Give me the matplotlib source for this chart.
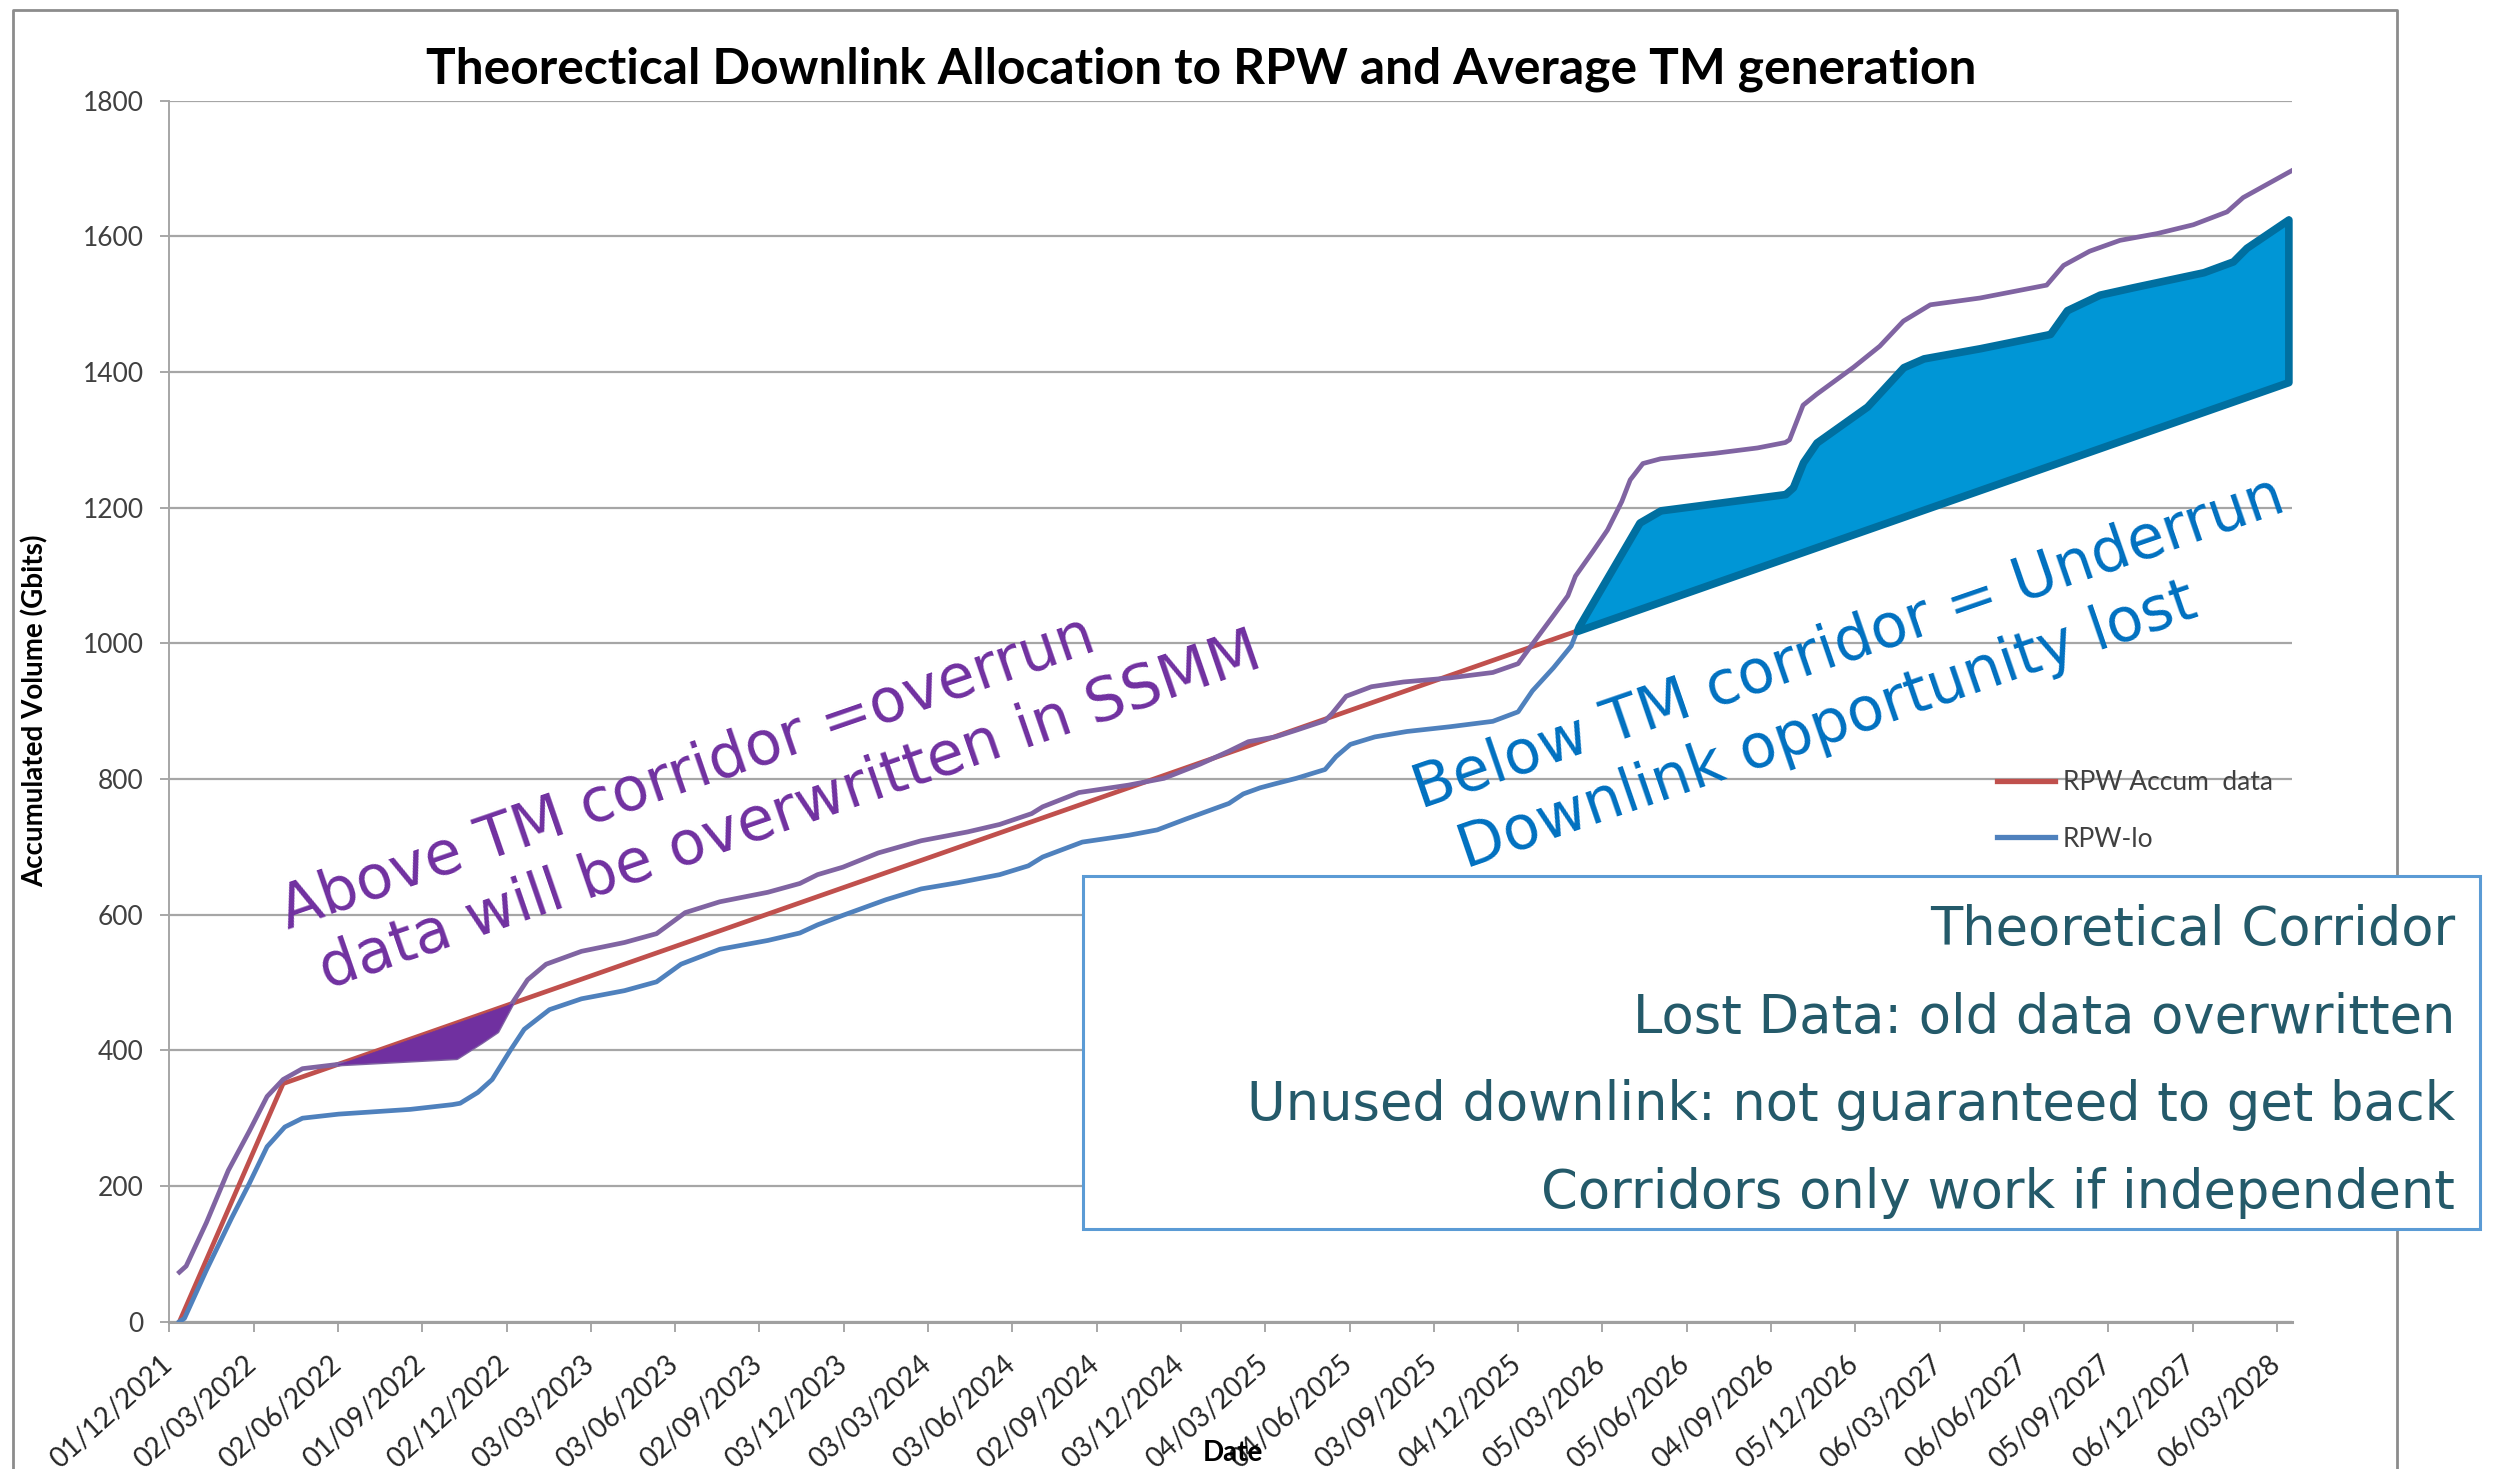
import numpy as np
import matplotlib
matplotlib.use("Agg")
import matplotlib.pyplot as plt
import matplotlib.transforms as mtransforms
from matplotlib.lines import Line2D
from matplotlib.patches import Rectangle

# x positions are in units of the quarterly date ticks (0 = 01/12/2021)
tick_labels = [
    '01/12/2021', '02/03/2022', '02/06/2022', '01/09/2022', '02/12/2022',
    '03/03/2023', '03/06/2023', '02/09/2023', '03/12/2023', '03/03/2024',
    '03/06/2024', '02/09/2024', '03/12/2024', '04/03/2025', '04/06/2025',
    '03/09/2025', '04/12/2025', '05/03/2026', '05/06/2026', '04/09/2026',
    '05/12/2026', '06/03/2027', '06/06/2027', '05/09/2027', '06/12/2027',
    '06/03/2028'
]
y_ticks = [0, 200, 400, 600, 800, 1000, 1200, 1400, 1600, 1800]

# RPW accumulated data (average TM generation)
red_x = [0.12, 1.35, 25.16]
red_y = [0, 351, 1386]

# upper corridor
purple_x = [0.12, 0.20, 0.44, 0.70, 0.95, 1.16, 1.35, 1.58, 2.05, 3.41,
            3.70, 3.89, 4.08, 4.25, 4.47, 4.89, 5.40, 5.78, 6.12, 6.53,
            7.10, 7.48, 7.69, 7.99, 8.41, 8.92, 9.47, 9.85, 10.23, 10.36,
            10.79, 11.38, 11.80, 12.23, 12.57, 12.80, 13.12, 13.37, 13.71, 13.79,
            13.96, 14.26, 14.64, 15.19, 15.70, 16.00, 16.17, 16.42, 16.59, 16.68,
            16.89, 17.06, 17.23, 17.33, 17.48, 17.69, 18.33, 18.84, 19.17, 19.22,
            19.38, 19.54, 19.98, 20.29, 20.57, 20.89, 21.48, 22.27, 22.47, 22.78,
            23.14, 23.58, 24.01, 24.41, 24.60, 25.21]
purple_y = [73, 82, 146, 223, 281, 332, 357, 373, 380, 389,
            412, 428, 472, 504, 527, 546, 559, 572, 603, 619,
            633, 646, 659, 670, 691, 709, 722, 733, 749, 759,
            780, 791, 801, 822, 841, 855, 862, 872, 886, 896,
            922, 936, 943, 949, 957, 970, 999, 1041, 1070, 1099,
            1136, 1167, 1209, 1241, 1265, 1272, 1280, 1288, 1296, 1300,
            1351, 1367, 1407, 1438, 1475, 1499, 1509, 1528, 1557, 1578,
            1594, 1604, 1617, 1636, 1657, 1699]

# lower corridor (RPW-lo)
blue_x = [0.12, 0.18, 0.44, 0.74, 0.95, 1.16, 1.37, 1.58, 2.01, 2.86,
          3.36, 3.45, 3.66, 3.83, 4.04, 4.21, 4.51, 4.89, 5.40, 5.78,
          6.07, 6.53, 7.10, 7.48, 7.69, 7.99, 8.50, 8.92, 9.35, 9.85,
          10.19, 10.36, 10.83, 11.38, 11.72, 12.06, 12.57, 12.74, 12.94, 13.12,
          13.37, 13.71, 13.84, 14.01, 14.30, 14.68, 15.19, 15.70, 16.00, 16.17,
          16.42, 16.63, 16.72, 17.44, 17.69, 19.17, 19.26, 19.38, 19.54, 20.14,
          20.57, 20.81, 21.48, 22.31, 22.51, 22.90, 23.30, 24.13, 24.48, 24.64,
          25.14]
blue_y = [0, 5, 76, 153, 204, 258, 287, 300, 306, 313,
          320, 322, 338, 357, 399, 431, 460, 476, 488, 501,
          527, 549, 562, 573, 585, 599, 622, 638, 647, 659,
          672, 685, 707, 717, 725, 741, 764, 778, 787, 793,
          801, 814, 833, 851, 862, 870, 877, 885, 899, 930,
          964, 996, 1025, 1178, 1196, 1220, 1230, 1267, 1296, 1349,
          1407, 1420, 1435, 1456, 1491, 1514, 1525, 1547, 1563, 1583,
          1625]

title = 'Theorectical Downlink Allocation to RPW and Average TM generation'
box_lines = ['Theoretical Corridor', 'Lost Data: old data overwritten',
             'Unused downlink: not guaranteed to get back',
             'Corridors only work if independent']
over_lines = ['Above TM corridor =overrun', 'data will be overwritten in SSMM']
under_lines = ['Below TM corridor = Underrun', 'Downlink opportunity lost']

W, H = 2506, 1469
plt.rcParams['font.family'] = 'DejaVu Sans'
fig = plt.figure(figsize=(W / 100, H / 100), dpi=100)

def fx(px):
    return px / W

def fy(py):
    return 1 - py / H

ax = fig.add_axes([fx(169.3), fy(1321.7), (2292 - 169.3) / W, 1221.1 / H])

ax.plot(red_x, red_y, color='#C0504D', lw=3.4, zorder=3)
ax.plot(blue_x, blue_y, color='#4F81BD', lw=3.4, zorder=3)
ax.plot(purple_x, purple_y, color='#8064A2', lw=3.4, zorder=3)

# shaded overrun / underrun regions
grid = np.linspace(0, 25.2, 8000)
red_i = np.interp(grid, red_x, red_y)
blue_i = np.interp(grid, blue_x, blue_y)
purple_i = np.interp(grid, purple_x, purple_y)

ax.fill_between(grid, purple_i, red_i,
                where=(red_i > purple_i) & (grid > 1.8) & (grid < 4.5),
                interpolate=True, facecolor='#7030A0', edgecolor='#7030A0',
                lw=0.5, zorder=4)
ax.fill_between(grid, red_i, blue_i,
                where=(blue_i > red_i) & (grid > 16) & (grid <= blue_x[-1]),
                interpolate=True, facecolor='#0096D6', edgecolor='#006FA0',
                lw=5.5, joinstyle='round', zorder=4)

ax.set_xlim(0, 25.18)
ax.set_ylim(0, 1800)
ax.set_xticks(range(len(tick_labels)))
ax.set_xticklabels(tick_labels, rotation=42, ha='right', family='Lato',
                   fontsize=20, color='#262626')
ax.set_yticks(y_ticks)
ax.set_yticklabels([str(v) for v in y_ticks], family='Lato', fontsize=19,
                   color='#404040')
ax.tick_params(axis='x', length=7, width=1.3, color='#A0A0A0', pad=14)
ax.tick_params(axis='y', length=6.5, width=1.3, color='#A0A0A0', pad=12)

# nudge the date labels a little to the right, as in the original
shift = mtransforms.ScaledTranslation(0.08, 0, fig.dpi_scale_trans)
for lab in ax.get_xticklabels():
    lab.set_transform(lab.get_transform() + shift)

for side in ['top', 'right']:
    ax.spines[side].set_visible(False)
ax.spines['left'].set_color('#A6A6A6')
ax.spines['left'].set_linewidth(1.4)
ax.spines['bottom'].set_color('#A0A0A0')
ax.spines['bottom'].set_linewidth(2.2)
ax.yaxis.grid(True, color='#A6A6A6', lw=1.6)
ax.set_axisbelow(True)

leg = ax.legend(handles=[Line2D([], [], color='#C0504D', lw=3.8),
                         Line2D([], [], color='#4F81BD', lw=3.8)],
                labels=['RPW Accum  data', 'RPW-lo'],
                loc='upper left', bbox_to_anchor=(fx(1997), fy(770)),
                bbox_transform=fig.transFigure, frameon=False,
                prop={'family': 'Lato', 'size': 19}, labelcolor='#404040',
                handlelength=2.2, handletextpad=0.3, labelspacing=1.2,
                borderpad=0, borderaxespad=0)

# titles and axis labels
fig.text(fx(1201), fy(83), title, ha='center', va='baseline',
         family='Lato', fontweight='bold', fontsize=35.7, color='black')
fig.text(fx(35), fy(711), 'Accumulated Volume (Gbits)', rotation=90,
         ha='center', va='center', family='Lato', fontweight='bold',
         fontsize=20, color='black')
fig.text(fx(1233), fy(1453), 'Date', ha='center', va='center', family='Lato',
         fontweight='bold', fontsize=20, color='black', zorder=12)

# outer chart frame
fig.add_artist(Line2D([fx(13), fx(13), fx(2397), fx(2397)],
                      [0, fy(10), fy(10), 0], transform=fig.transFigure,
                      color='#8C8C8C', lw=2, zorder=0))

# rotated annotations
for txt, (px, py) in zip(over_lines, [(288, 929), (327, 989)]):
    fig.text(fx(px), fy(py), txt, rotation=19, rotation_mode='anchor',
             ha='left', va='baseline', fontsize=43.5, color='#7030A0', zorder=8)
for txt, (px, py) in zip(under_lines, [(1421, 809), (1466, 869)]):
    fig.text(fx(px), fy(py), txt, rotation=19, rotation_mode='anchor',
             ha='left', va='baseline', fontsize=43.5, color='#0070C0', zorder=8)

# explanation box
fig.add_artist(Rectangle((fx(1083), fy(1229)), (2480 - 1083) / W,
                         (1229 - 876) / H, transform=fig.transFigure,
                         facecolor='white', edgecolor='#5B9BD5', lw=2.2,
                         zorder=10))
for txt, py in zip(box_lines, [945, 1033, 1120, 1208]):
    fig.text(fx(2455), fy(py), txt, ha='right', va='baseline', fontsize=38,
             color='#245A6A', zorder=11)

fig.savefig('out.png', dpi=100)
